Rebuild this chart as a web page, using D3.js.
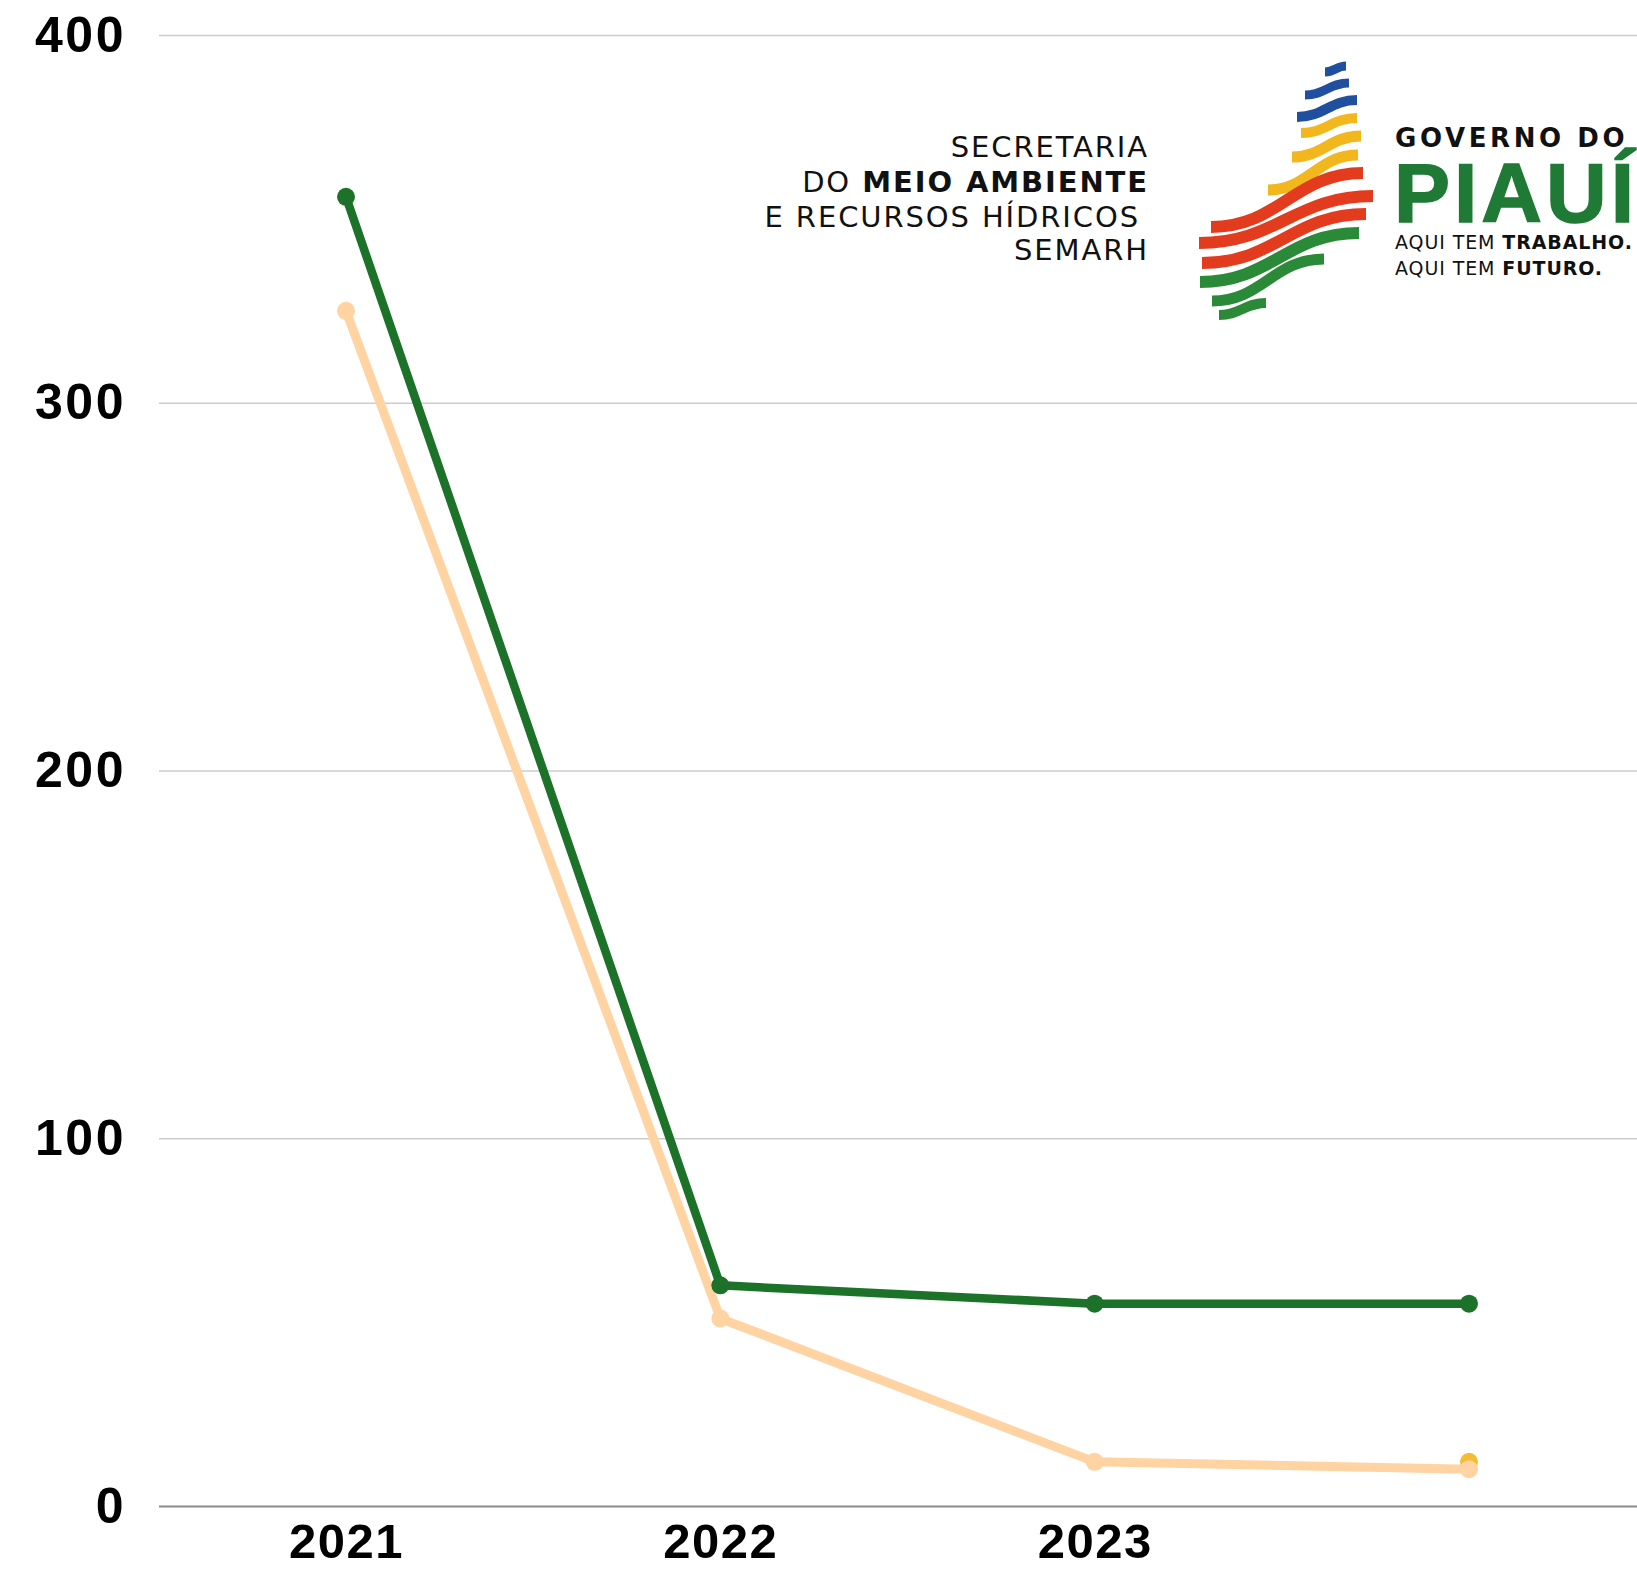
<!DOCTYPE html>
<html>
<head>
<meta charset="utf-8">
<script src="https://cdn.jsdelivr.net/npm/d3@7"></script>
<style>
  html, body { margin: 0; padding: 0; background: #fff; }
  svg { display: block; }
</style>
</head>
<body>
<svg id="chart" width="1637" height="1569"></svg>
<script>
// ---- data ----
const categories = ["2021", "2022", "2023", "2024"];
const tickLabels = ["2021", "2022", "2023", ""];
const yTicks = [0, 100, 200, 300, 400];
const seriesGreen = [356, 60, 55, 55];
const seriesOrange = [325, 51, 12, 10];
const seriesYellow = [null, null, null, 12];

// ---- layout ----
const W = 1637, H = 1569;
const plotLeft = 159, plotRight = 1637;
const svg = d3.select("#chart");

const x = d3.scalePoint().domain(categories).range([346, 1469]);
const y = d3.scaleLinear().domain([0, 400]).range([1506, 35]);

// grid + y labels
const yAxis = d3.axisLeft(y).tickValues(yTicks).tickSize(-(plotRight - plotLeft)).tickPadding(33).tickFormat(d3.format("d"));
const gy = svg.append("g").attr("transform", `translate(${plotLeft},0)`).call(yAxis);
gy.select(".domain").remove();
gy.selectAll(".tick line").attr("stroke", "#cccccc").attr("stroke-width", 1.6);
gy.selectAll(".tick").filter(d => d === 0).select("line").attr("stroke", "#8a8a8a").attr("stroke-width", 2.2);
gy.selectAll(".tick text")
  .attr("fill", "#000")
  .style("font-family", "'Liberation Sans', Arial, sans-serif")
  .style("font-weight", "bold")
  .style("font-size", "50px")
  .style("letter-spacing", "2.5px");

// x labels
const xAxis = d3.axisBottom(x).tickSize(0).tickPadding(17).tickFormat((d, i) => tickLabels[i]);
const gx = svg.append("g").attr("transform", `translate(0,${y(0)})`).call(xAxis);
gx.select(".domain").remove();
gx.selectAll(".tick text")
  .attr("fill", "#000")
  .style("font-family", "'Liberation Sans', Arial, sans-serif")
  .style("font-weight", "bold")
  .style("font-size", "49px")
  .style("letter-spacing", "1.5px");

// lines
const line = d3.line()
  .defined(d => d.v != null)
  .x(d => x(d.c))
  .y(d => y(d.v));

function drawSeries(values, color, width, r) {
  const pts = categories.map((c, i) => ({ c, v: values[i] }));
  svg.append("path").datum(pts)
    .attr("fill", "none").attr("stroke", color).attr("stroke-width", width)
    .attr("stroke-linejoin", "round")
    .attr("d", line);
  svg.append("g").selectAll("circle").data(pts.filter(d => d.v != null)).join("circle")
    .attr("cx", d => x(d.c)).attr("cy", d => y(d.v)).attr("r", r).attr("fill", color);
}
drawSeries(seriesYellow, "#f3bd33", 9, 9);
drawSeries(seriesOrange, "#ffd3a2", 9, 9);
drawSeries(seriesGreen, "#1b7228", 8.5, 9);

// ---- logo ----
const logo = svg.append("g");
const secLines = [
  [{ t: "SECRETARIA", b: false }],
  [{ t: "DO ", b: false }, { t: "MEIO AMBIENTE", b: true }],
  [{ t: "E RECURSOS HÍDRICOS", b: false }],
  [{ t: "SEMARH", b: false }]
];
const secBaselines = [157, 192, 227, 260];
const secRight = [1149, 1149, 1140, 1149];
secLines.forEach((parts, i) => {
  const t = logo.append("text")
    .attr("x", secRight[i]).attr("y", secBaselines[i])
    .attr("text-anchor", "end")
    .style("font-family", "'DejaVu Sans', 'Noto Sans', sans-serif")
    .style("font-size", "29px")
    .style("letter-spacing", "1.9px")
    .attr("fill", "#111");
  parts.forEach(p => t.append("tspan").text(p.t).style("font-weight", p.b ? "bold" : "normal"));
});

// emblem stripes: [x0,y0,x1,y1,color,width]
const stripes = [
  [1325, 72, 1346, 66, "#1f4f9e", 9],
  [1305, 95, 1349, 83, "#1f4f9e", 9],
  [1297, 117, 1357, 100, "#1f4f9e", 10],
  [1301, 133, 1357, 118, "#f2b71c", 10],
  [1292, 157, 1361, 136, "#f2b71c", 11],
  [1268, 190, 1358, 155, "#f2b71c", 11],
  [1211, 227, 1363, 173, "#e33b1d", 12],
  [1199, 243, 1373, 196, "#e33b1d", 12],
  [1202, 263, 1366, 214, "#e33b1d", 12],
  [1200, 282, 1359, 233, "#2b8a37", 12],
  [1212, 301, 1324, 259, "#2b8a37", 11],
  [1219, 315, 1266, 303, "#2b8a37", 10]
];
stripes.forEach(([x0, y0, x1, y1, c, w]) => {
  const dx = x1 - x0;
  logo.append("path")
    .attr("d", `M${x0},${y0} C${x0 + 0.45 * dx},${y0} ${x1 - 0.45 * dx},${y1} ${x1},${y1}`)
    .attr("fill", "none").attr("stroke", c).attr("stroke-width", w);
});

logo.append("text").attr("x", 1395).attr("y", 147)
  .style("font-family", "'DejaVu Sans', 'Noto Sans', sans-serif").style("font-size", "26px")
  .style("font-weight", "bold").style("letter-spacing", "3.6px").attr("fill", "#111")
  .text("GOVERNO DO");
logo.append("text").attr("x", 1394).attr("y", 222)
  .style("font-family", "'Liberation Sans', Arial, sans-serif").style("font-size", "84px")
  .style("font-weight", "bold").style("letter-spacing", "4px").attr("fill", "#1f7a35")
  .attr("stroke", "#1f7a35").attr("stroke-width", 1.5)
  .text("PIAUÍ");
const aq1 = logo.append("text").attr("x", 1395).attr("y", 249)
  .style("font-family", "'DejaVu Sans', 'Noto Sans', sans-serif").style("font-size", "19px")
  .style("letter-spacing", "0.9px").attr("fill", "#111");
aq1.append("tspan").text("AQUI TEM ");
aq1.append("tspan").text("TRABALHO.").style("font-weight", "bold");
const aq2 = logo.append("text").attr("x", 1395).attr("y", 275)
  .style("font-family", "'DejaVu Sans', 'Noto Sans', sans-serif").style("font-size", "19px")
  .style("letter-spacing", "0.9px").attr("fill", "#111");
aq2.append("tspan").text("AQUI TEM ");
aq2.append("tspan").text("FUTURO.").style("font-weight", "bold");
</script>
</body>
</html>
